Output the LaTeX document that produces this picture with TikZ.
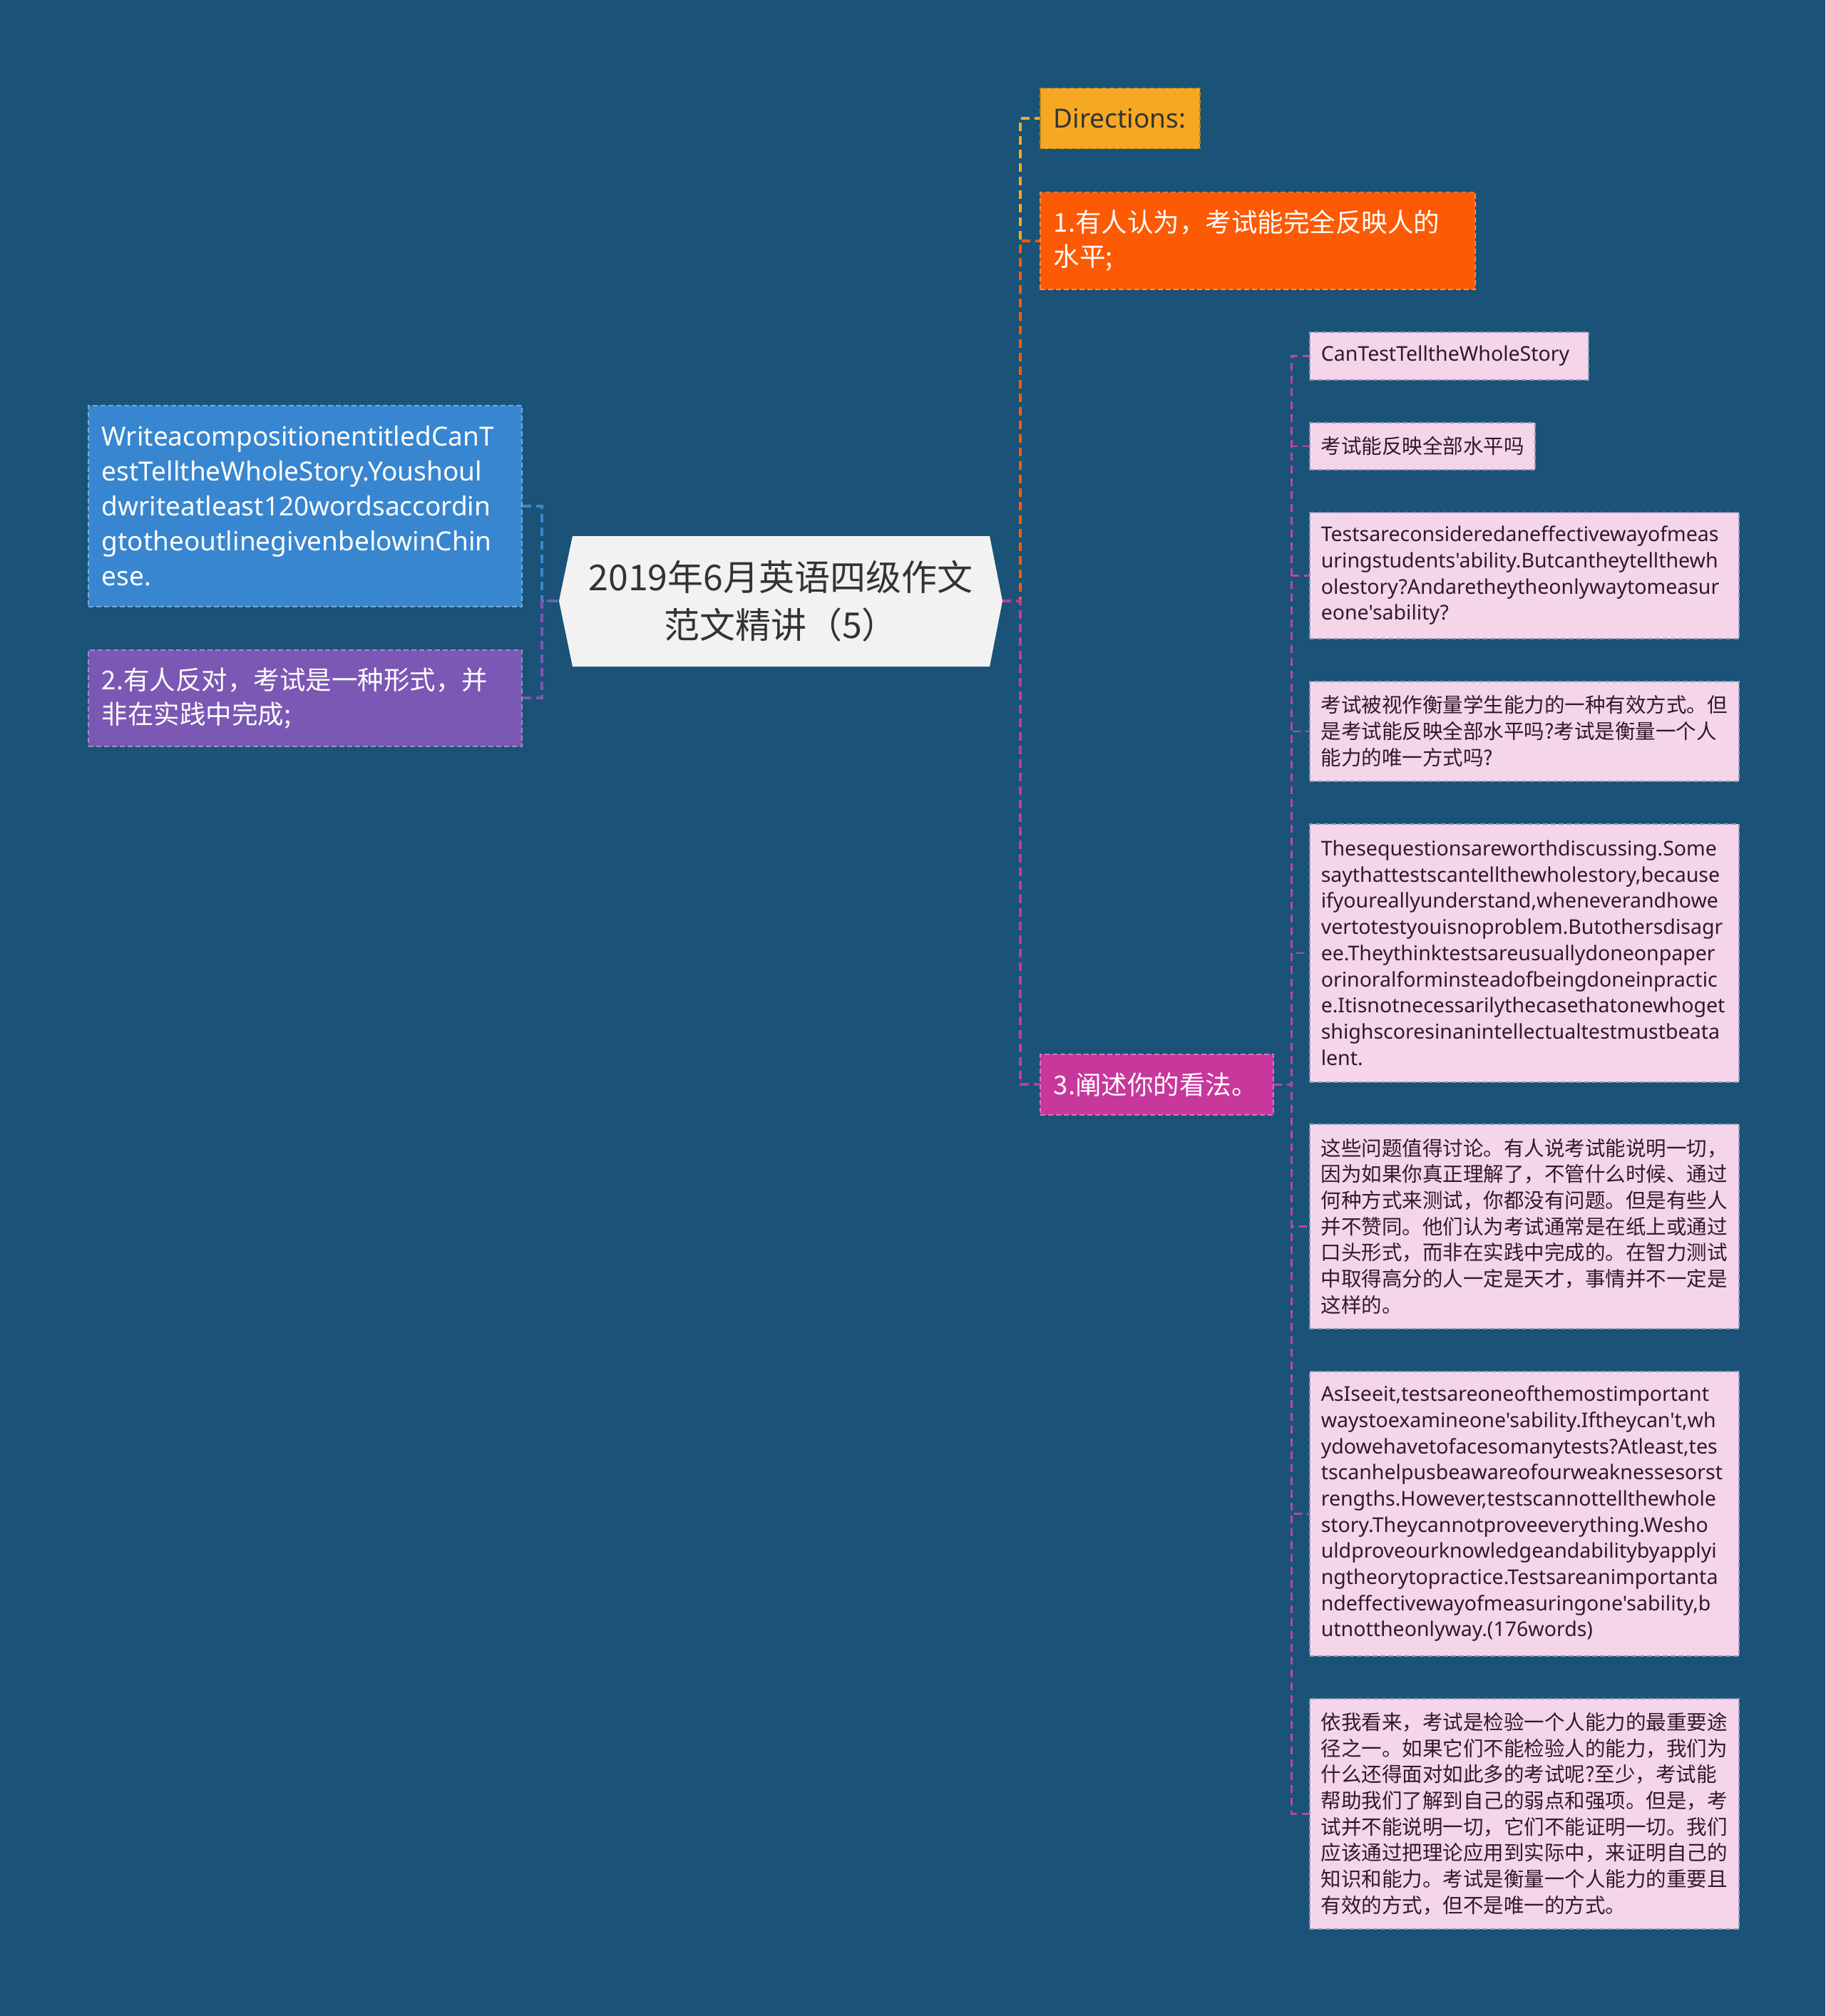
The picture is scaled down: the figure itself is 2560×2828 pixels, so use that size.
\documentclass[tikz,border=0pt]{standalone}
\usepackage{fontspec}
\setmainfont{Noto Sans CJK SC}
\newfontfamily\lat{Noto Sans}
\newcommand\nohy{\hyphenpenalty=10000\exhyphenpenalty=10000\relax}
\definecolor{bgc}{HTML}{1A5377}
\definecolor{rootfill}{HTML}{F2F2F2}
\definecolor{roottext}{HTML}{333333}
\definecolor{cblue}{HTML}{3886CF}
\definecolor{cpurple}{HTML}{7B58B4}
\definecolor{cyellow}{HTML}{F7A823}
\definecolor{corange}{HTML}{FD5A05}
\definecolor{cmag}{HTML}{C8379B}
\definecolor{cpink}{HTML}{F5D5EA}
\definecolor{ctext}{HTML}{2E1A2B}
\definecolor{csub}{HTML}{BB45A6}
\begin{document}
\begin{tikzpicture}[x=1pt,y=-1pt,
  box/.style={anchor=north west, rectangle, inner xsep=19pt, inner ysep=0pt, align=left, line width=1.5pt, dash pattern=on 7pt off 4pt},
  lvlcjk/.style={box, text=white, font=\fontsize{36.5}{48}\selectfont\nohy},
  lvllat/.style={box, text=white, font=\lat\fontsize{37}{49}\selectfont\nohy},
  leafbox/.style={box, inner xsep=16pt, fill=cpink, draw=cpink!55!bgc, text=ctext},
  leafcjk/.style={leafbox, font=\fontsize{28.5}{36.7}\selectfont\nohy},
  leaflat/.style={leafbox, font=\lat\fontsize{28.5}{36.7}\selectfont\nohy},
  mainline/.style={line width=4pt, dash pattern=on 12pt off 7pt},
  subline/.style={line width=2.5pt, dash pattern=on 11pt off 7pt, draw=csub},
]
\fill[bgc] (0,0) rectangle (2560,2828);
\useasboundingbox (0,0) rectangle (2560,2828);

% central topic
\fill[rootfill] (803,752) -- (1388,752) -- (1406,843) -- (1388,935) -- (803,935) -- (784,843) -- cycle;
\node[rectangle, minimum width=622pt, minimum height=183pt, inner sep=0pt, align=center, text=roottext,
      font=\fontsize{50}{67}\selectfont] (root) at (1095,843) {2019年6月英语四级作文\\范文精讲（5）};

% left branches
\node[lvllat, fill=cblue, draw=cblue!70!white, text width=570pt, minimum height=282pt] (blue) at (123,568)
 {WriteacompositionentitledCanT\\estTelltheWholeStory.Youshoul\\dwriteatleast120wordsaccordin\\gtotheoutlinegivenbelowinChin\\ese.};
\node[lvlcjk, fill=cpurple, draw=cpurple!70!white, text width=570pt, minimum height=135pt] (purple) at (123,911)
 {2.有人反对，考试是一种形式，并\\非在实践中完成;};

% right branches
\node[box, fill=cyellow, draw=cyellow!75!black, text=roottext, text width=186pt, minimum height=85pt,
      font=\lat\fontsize{37}{49}\selectfont] (dir) at (1458,123) {Directions:};
\node[lvlcjk, fill=corange, draw=corange!70!white, text width=572pt, minimum height=136pt] (n1) at (1458,269)
 {1.有人认为，考试能完全反映人的\\水平;};
\node[lvlcjk, fill=cmag, draw=cmag!70!white, text width=289pt, minimum height=85pt] (n3) at (1458,1478)
 {3.阐述你的看法。};

% leaves
\node[leaflat, text width=359pt, minimum height=67pt] (c1) at (1836,465) {CanTestTelltheWholeStory};
\node[leafcjk, text width=284pt, minimum height=66pt] (c2) at (1836,592) {考试能反映全部水平吗};
\node[leaflat, text width=570pt, minimum height=177pt] (c3) at (1836,718)
 {Testsareconsideredaneffectivewayofmeas\\uringstudents'ability.Butcantheytellthewh\\olestory?Andaretheytheonlywaytomeasur\\eone'sability?};
\node[leafcjk, text width=570pt, minimum height=140pt] (c4) at (1836,955)
 {考试被视作衡量学生能力的一种有效方式。但\\是考试能反映全部水平吗?考试是衡量一个人\\能力的唯一方式吗?};
\node[leaflat, text width=570pt, minimum height=362pt] (c5) at (1836,1155)
 {Thesequestionsareworthdiscussing.Some\\saythattestscantellthewholestory,because\\ifyoureallyunderstand,wheneverandhowe\\vertotestyouisnoproblem.Butothersdisagr\\ee.Theythinktestsareusuallydoneonpaper\\orinoralforminsteadofbeingdoneinpractic\\e.Itisnotnecessarilythecasethatonewhoget\\shighscoresinanintellectualtestmustbeata\\lent.};
\node[leafcjk, text width=570pt, minimum height=287pt] (c6) at (1836,1576)
 {这些问题值得讨论。有人说考试能说明一切，\\因为如果你真正理解了，不管什么时候、通过\\何种方式来测试，你都没有问题。但是有些人\\并不赞同。他们认为考试通常是在纸上或通过\\口头形式，而非在实践中完成的。在智力测试\\中取得高分的人一定是天才，事情并不一定是\\这样的。};
\node[leaflat, text width=570pt, minimum height=399pt] (c7) at (1836,1923)
 {AsIseeit,testsareoneofthemostimportant\\waystoexamineone'sability.Iftheycan't,wh\\ydowehavetofacesomanytests?Atleast,tes\\tscanhelpusbeawareofourweaknessesorst\\rengths.However,testscannottellthewhole\\story.Theycannotproveeverything.Wesho\\uldproveourknowledgeandabilitybyapplyi\\ngtheorytopractice.Testsareanimportanta\\ndeffectivewayofmeasuringone'sability,b\\utnottheonlyway.(176words)};
\node[leafcjk, text width=570pt, minimum height=323pt] (c8) at (1836,2382)
 {依我看来，考试是检验一个人能力的最重要途\\径之一。如果它们不能检验人的能力，我们为\\什么还得面对如此多的考试呢?至少，考试能\\帮助我们了解到自己的弱点和强项。但是，考\\试并不能说明一切，它们不能证明一切。我们\\应该通过把理论应用到实际中，来证明自己的\\知识和能力。考试是衡量一个人能力的重要且\\有效的方式，但不是唯一的方式。};

% connectors
\draw[mainline, draw=cblue] (blue.east) -- ++(27,0) |- (root.west);
\draw[mainline, draw=cpurple] (purple.east) -- ++(27,0) |- (root.west);
\draw[mainline, draw=cyellow] (root.east) -- ++(25,0) |- (dir.west);
\draw[mainline, draw=corange] (root.east) -- ++(25,0) |- (n1.west);
\draw[mainline, draw=cmag] (root.east) -- ++(25,0) |- (n3.west);
\foreach \c in {c1,c2,c3,c4,c5,c6,c7,c8}
  \draw[subline] (n3.east) -- ++(25,0) |- (\c.west);
\end{tikzpicture}
\end{document}
